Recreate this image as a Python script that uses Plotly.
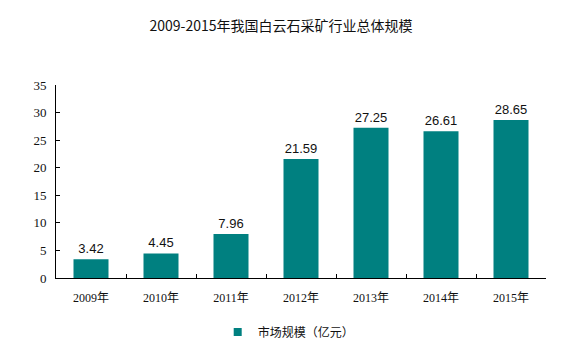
import plotly.graph_objects as go

years = ["2009年", "2010年", "2011年", "2012年", "2013年", "2014年", "2015年"]
market_size = [3.42, 4.45, 7.96, 21.59, 27.25, 26.61, 28.65]
value_labels = ["3.42", "4.45", "7.96", "21.59", "27.25", "26.61", "28.65"]
series_name = "市场规模（亿元）"
title_text = "2009-2015年我国白云石采矿行业总体规模"
bar_color = "#008080"

fig = go.Figure()
fig.add_trace(go.Bar(
    x=years, y=market_size, name=series_name, showlegend=False,
    marker=dict(color=bar_color, line=dict(width=0)),
    text=value_labels, textposition="outside",
    textfont=dict(family="Liberation Sans, Arial", size=13, color="#111"),
    cliponaxis=False,
))
# legend entry with a small square swatch
fig.add_trace(go.Scatter(
    x=[None], y=[None], mode="markers", name=series_name,
    marker=dict(symbol="square", size=8, color=bar_color),
))

fig.update_layout(
    width=562, height=351,
    margin=dict(l=56, r=16, t=85, b=73, autoexpand=False),
    paper_bgcolor="white", plot_bgcolor="white",
    bargap=0.5,
    title=dict(text=title_text, x=0.5, xanchor="center", y=0.925, yanchor="middle",
               font=dict(family="Noto Sans CJK SC", size=14, color="#111")),
    showlegend=True,
    legend=dict(orientation="h", x=0.33, xanchor="left", y=-0.28, yanchor="middle",
                font=dict(family="Noto Sans CJK SC", size=12, color="#111"),
                itemwidth=30, tracegroupgap=0),
    xaxis=dict(type="category", showline=True, linecolor="black", linewidth=1,
               ticks="inside", ticklen=4, tickcolor="black", tickson="boundaries",
               ticklabelstandoff=9, automargin=False,
               tickfont=dict(family="Liberation Serif, Noto Sans CJK SC", size=12, color="#111"),
               showgrid=False),
    yaxis=dict(range=[0, 35], dtick=5, showline=True, linecolor="black", linewidth=1,
               ticks="inside", ticklen=4, tickcolor="black", showgrid=False, zeroline=False,
               ticklabelstandoff=6, automargin=False,
               tickfont=dict(family="Liberation Serif", size=13, color="#111")),
)

fig.write_html("out.html")
